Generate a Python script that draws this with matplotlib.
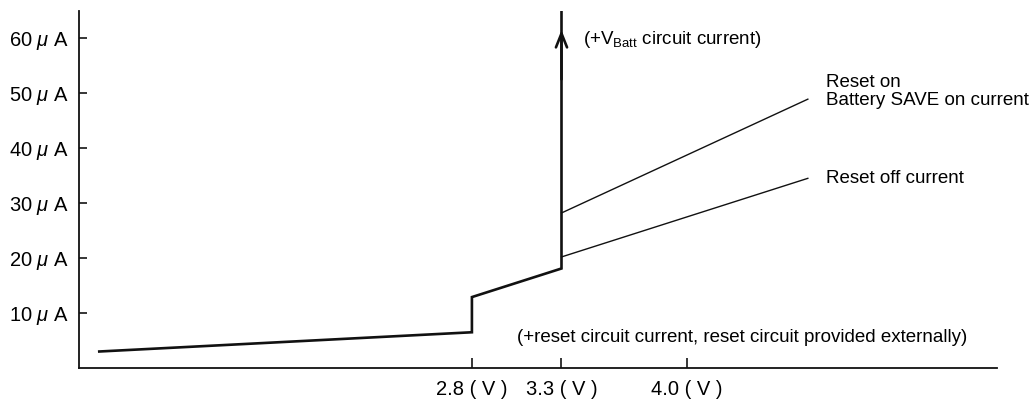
import matplotlib
matplotlib.use("Agg")
import matplotlib.pyplot as plt

plt.rcParams['font.family'] = ['Liberation Sans', 'DejaVu Sans']
plt.rcParams['mathtext.fontset'] = 'custom'
plt.rcParams['mathtext.rm'] = 'Liberation Sans'
plt.rcParams['mathtext.it'] = 'Liberation Sans:italic'

# supply voltage (V) vs current (uA)
main_v = [0.72, 2.8, 2.8, 3.3, 3.3]
main_i = [3.0, 6.5, 12.9, 18.1, 65.5]
reset_off_v = [3.3, 4.675]
reset_off_i = [20.2, 34.5]
reset_on_v = [3.3, 4.675]
reset_on_i = [28.2, 48.9]

x_ticks = [2.8, 3.3, 4.0]
x_labels = ['2.8 ( V )', '3.3 ( V )', '4.0 ( V )']
y_ticks = [10, 20, 30, 40, 50, 60]
y_labels = [f'{t} $\\mu$ A' for t in y_ticks]

fig = plt.figure(figsize=(10.33, 4.12), dpi=100)
ax = fig.add_axes([0.0765, 0.1068, 0.8885, 0.866])
col = '#111111'

ax.plot(main_v, main_i, color=col, lw=1.9, solid_joinstyle='miter')
ax.plot(reset_off_v, reset_off_i, color=col, lw=1.0)
ax.plot(reset_on_v, reset_on_i, color=col, lw=1.0)
# arrow head on the vertical part
ax.annotate('', xy=(3.3, 62.0), xytext=(3.3, 52),
            arrowprops=dict(arrowstyle='->,head_length=1.0,head_width=0.4', color=col, lw=1.9))

fs = 13.5
ax.text(3.42, 59.8, '(+V$_{\\mathrm{Batt}}$ circuit current)', fontsize=fs, va='center', ha='left')
ax.text(4.775, 50.3, 'Reset on\nBattery SAVE on current', fontsize=fs, va='center', ha='left', linespacing=1.05)
ax.text(4.775, 34.5, 'Reset off current', fontsize=fs, va='center', ha='left')
ax.text(3.05, 5.6, '(+reset circuit current, reset circuit provided externally)', fontsize=fs, va='center', ha='left')

ax.set_xlim(0.607, 5.73)
ax.set_ylim(0, 64.9)
ax.set_xticks(x_ticks)
ax.set_xticklabels(x_labels)
ax.set_yticks(y_ticks)
ax.set_yticklabels(y_labels)
ax.tick_params(axis='x', direction='in', length=7, width=1.1, pad=9, labelsize=14.5)
ax.tick_params(axis='y', direction='in', length=6, width=1.1, pad=7, labelsize=14.5)
for s in ['top', 'right']:
    ax.spines[s].set_visible(False)
for s in ['left', 'bottom']:
    ax.spines[s].set_linewidth(1.3)
    ax.spines[s].set_color(col)

fig.savefig('out.png', dpi=100)
